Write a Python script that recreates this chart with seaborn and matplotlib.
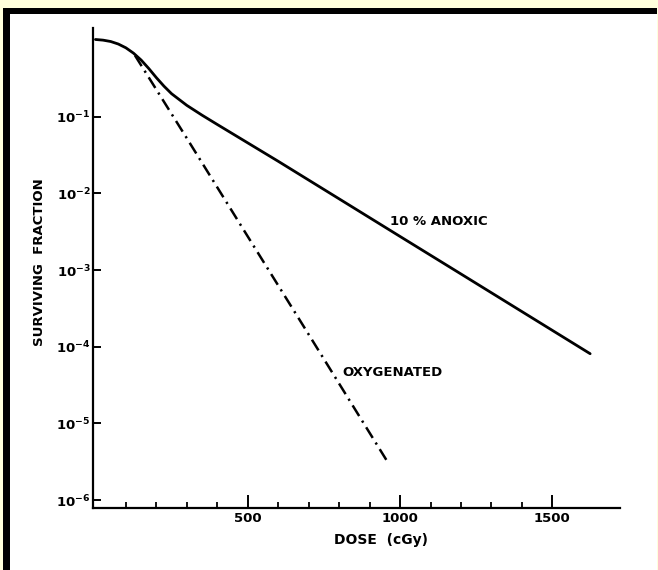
import matplotlib
matplotlib.use("Agg")
import matplotlib.pyplot as plt
from matplotlib.patches import Rectangle
import seaborn as sns
import pandas as pd

# ---- data ----
anoxic_dose = [0, 25, 50, 75, 100, 125, 150, 175, 200, 225, 250, 300, 350, 400,
               500, 600, 800, 1000, 1200, 1400, 1624]
anoxic_sf = [1.02, 1.0, 0.96, 0.89, 0.794, 0.676, 0.550, 0.427, 0.324, 0.251, 0.200,
             0.141, 0.105, 0.0794, 0.0457, 0.0263, 8.51e-3, 2.75e-3, 8.91e-4, 2.88e-4, 8.13e-5]
oxy_dose = [130, 300, 500, 700, 956]
oxy_sf = [0.63, 0.0525, 2.75e-3, 1.45e-4, 3.3e-6]

x_major = [500, 1000, 1500]
x_major_labels = ["500", "1000", "1500"]
x_minor = [100, 200, 300, 400, 600, 700, 800, 900, 1100, 1200, 1300, 1400]
y_ticks = [1e-1, 1e-2, 1e-3, 1e-4, 1e-5, 1e-6]
y_tick_labels = [r"$10^{-1}$", r"$10^{-2}$", r"$10^{-3}$", r"$10^{-4}$", r"$10^{-5}$", r"$10^{-6}$"]

anoxic_label = "10 % ANOXIC"
oxy_label = "OXYGENATED"
x_title = "DOSE  (cGy)"
y_title = "SURVIVING  FRACTION"

sns.set_theme(style="ticks")
plt.rcParams["font.family"] = ["DejaVu Sans"]
plt.rcParams["mathtext.default"] = "bf"

W, H = 658, 570
fig = plt.figure(figsize=(W / 100, H / 100), dpi=100, facecolor="#FFFFDC")

def px_rect(x0, y0, x1, y1, color):
    fig.add_artist(Rectangle((x0 / W, 1 - y1 / H), (x1 - x0) / W, (y1 - y0) / H,
                             transform=fig.transFigure, facecolor=color,
                             edgecolor="none", zorder=-10))

px_rect(3, 8, 657, H, "black")
px_rect(10, 14, 657, H, "white")

ax = fig.add_axes([93.3 / W, 1 - 508 / H, (620 - 93.3) / W, (508 - 28) / H])
ax.set_facecolor("none")

df_a = pd.DataFrame({"dose": anoxic_dose, "sf": anoxic_sf})
df_o = pd.DataFrame({"dose": oxy_dose, "sf": oxy_sf})
sns.lineplot(data=df_a, x="dose", y="sf", ax=ax, color="black", lw=2.0,
             estimator=None, sort=False)
sns.lineplot(data=df_o, x="dose", y="sf", ax=ax, color="black", lw=1.8,
             estimator=None, sort=False)
ax.lines[0].set_solid_joinstyle("round")
ax.lines[1].set_dashes((5.0, 2.2, 0.9, 2.2))

ax.set_yscale("log")
ax.set_xlim(-7, 1722)
ax.set_ylim(7.9e-7, 1.44)

ax.set_xticks(x_major)
ax.set_xticklabels(x_major_labels)
ax.set_xticks(x_minor, minor=True)
ax.set_yticks(y_ticks)
ax.set_yticklabels(y_tick_labels)
ax.yaxis.set_minor_locator(matplotlib.ticker.NullLocator())

ax.tick_params(axis="x", which="major", direction="in", length=9.5, width=1.4,
               pad=3, labelsize=9.5, color="black", labelcolor="black")
ax.tick_params(axis="x", which="minor", direction="in", length=4.5, width=1.3,
               color="black")
ax.tick_params(axis="y", which="major", direction="in", length=6, width=1.4,
               pad=2, labelsize=9.5, color="black", labelcolor="black")
for lab in ax.get_xticklabels():
    lab.set_fontweight("bold")

for side in ["top", "right"]:
    ax.spines[side].set_visible(False)
for side in ["left", "bottom"]:
    ax.spines[side].set_linewidth(1.6)
    ax.spines[side].set_color("black")

ax.set_xlabel(x_title, fontsize=10, fontweight="bold", color="black")
ax.xaxis.set_label_coords((381 - 93.3) / (620 - 93.3), -(540 - 508) / (508 - 28))
ax.xaxis.label.set_va("center")
ax.set_ylabel(y_title, fontsize=9.5, fontweight="bold", color="black")
ax.yaxis.set_label_coords(-(93.3 - 40) / (620 - 93.3), (508 - 262) / (508 - 28))
ax.yaxis.label.set_va("center")

ax.text(967, 10 ** -2.37, anoxic_label, fontsize=9.5, fontweight="bold",
        ha="left", va="center", color="black")
ax.text(812, 10 ** -4.33, oxy_label, fontsize=9.5, fontweight="bold",
        ha="left", va="center", color="black")

fig.savefig("out.png", dpi=100, facecolor=fig.get_facecolor())
